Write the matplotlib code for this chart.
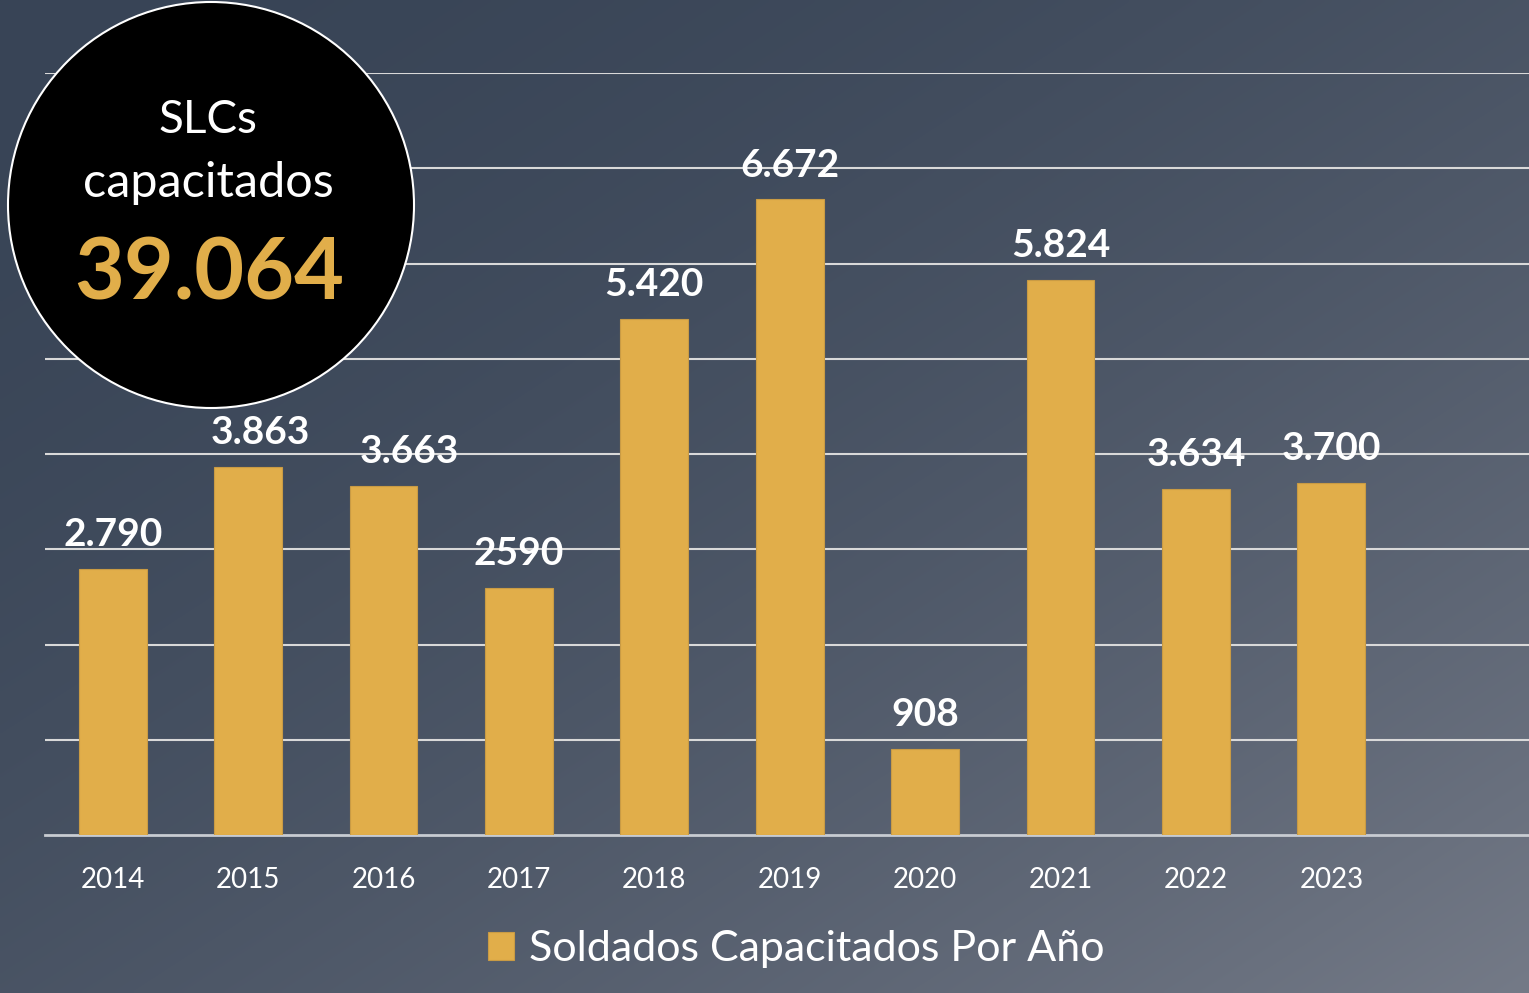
import numpy as np
import matplotlib
matplotlib.use("Agg")
import matplotlib.pyplot as plt
from matplotlib.patches import Circle

plt.rcParams['font.family'] = ['Lato', 'DejaVu Sans']

# Data
years = ['2014', '2015', '2016', '2017', '2018', '2019', '2020', '2021', '2022', '2023']
trained = [2790, 3863, 3663, 2590, 5420, 6672, 908, 5824, 3634, 3700]
value_labels = ['2.790', '3.863', '3.663', '2590', '5.420', '6.672', '908', '5.824', '3.634', '3.700']
series_name = 'Soldados Capacitados Por Año'
total_title = ['SLCs', 'capacitados']
total_value = '39.064'

# Style
gold = '#E1AE4A'
W, H = 1529, 993
label_dx_px = [0, 12, 26, 0, 0, 0, 0, 0, 0, 0]  # small horizontal nudges of value labels
px2pt = 72 / 100

fig = plt.figure(figsize=(W / 100, H / 100), dpi=100)

# Background gradient (dark top-left -> lighter bottom-right)
bg = fig.add_axes([0, 0, 1, 1], zorder=0)
bg.axis('off')
gx, gy = np.meshgrid(np.linspace(0, 1, 400), np.linspace(0, 1, 260))
t = ((gx + gy) / 2) ** 1.8
c0 = np.array([0x38, 0x44, 0x56]) / 255
c1 = np.array([0x74, 0x7a, 0x87]) / 255
img = c0 + (c1 - c0) * t[..., None]
bg.imshow(img, aspect='auto', extent=[0, 1, 0, 1], interpolation='bilinear')

# Main chart
ax = fig.add_axes([45 / W, 158 / H, 1484 / W, 762 / H], zorder=1)
ax.patch.set_alpha(0)
x = np.arange(len(years))
ax.bar(x, trained, width=0.5, color=gold, edgecolor='#c99b44', linewidth=0.8,
       zorder=3, label=series_name)
ax.set_xlim(-0.5, 10.46)
ax.set_ylim(0, 8000)
ax.set_yticks(range(1000, 9000, 1000))
ax.yaxis.grid(True, color='#d9d9d9', linewidth=1.5)
ax.set_axisbelow(True)
ax.tick_params(axis='y', left=False, labelleft=False)
for s in ['top', 'right', 'left']:
    ax.spines[s].set_visible(False)
ax.spines['bottom'].set_color('#c8ccd2')
ax.spines['bottom'].set_linewidth(2)
ax.set_xticks(x)
ax.set_xticklabels(years, fontsize=20, color='white')
ax.tick_params(axis='x', length=0, pad=23)

for i, (v, lab) in enumerate(zip(trained, value_labels)):
    ax.annotate(lab, (i, v), xytext=(label_dx_px[i] * px2pt, 16.5),
                textcoords='offset points', ha='center', va='baseline',
                fontsize=28, fontweight='bold', color='white', zorder=4)

leg = ax.legend(loc='center', bbox_to_anchor=(796 / W, 1 - 949 / H),
                bbox_transform=fig.transFigure, frameon=False, fontsize=31,
                handlelength=0.62, handleheight=0.62, handletextpad=0.33)
for txt in leg.get_texts():
    txt.set_color('white')

# Circle with total
ov = fig.add_axes([0, 0, 1, 1], zorder=5)
ov.set_xlim(0, W)
ov.set_ylim(H, 0)
ov.axis('off')
ov.patch.set_alpha(0)
ov.add_patch(Circle((211, 205), 203, facecolor='black', edgecolor='white', linewidth=1.5))
ov.text(208, 133, total_title[0], ha='center', va='baseline', fontsize=33, color='white')
ov.text(208, 197, total_title[1], ha='center', va='baseline', fontsize=35, color='white')
ov.text(209, 300, total_value, ha='center', va='baseline', fontsize=62,
        fontweight='bold', color=gold)

fig.savefig('out.png', dpi=100)
